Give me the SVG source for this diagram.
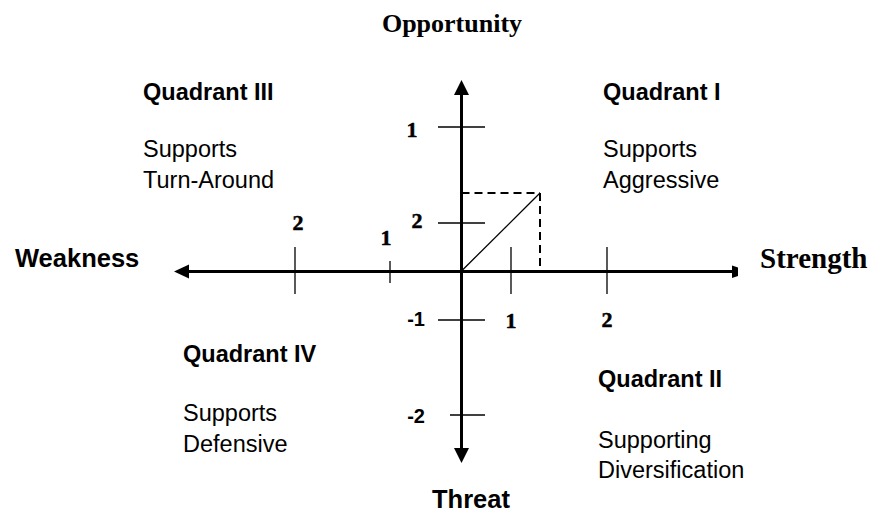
<svg xmlns="http://www.w3.org/2000/svg" width="869" height="513" viewBox="0 0 869 513">
<style>
.ax{stroke:#000;stroke-width:3;fill:none}
.tk{stroke:#000;stroke-width:1.3;fill:none}
.ds{stroke:#000;stroke-width:2;fill:none;stroke-dasharray:8 5}
.hd{fill:#000}
.tb{font-family:"Liberation Serif","Times New Roman",serif;font-weight:bold;fill:#000}
.sb{font-family:"Liberation Sans",Arial,sans-serif;font-weight:bold;fill:#000}
.sr{font-family:"Liberation Sans",Arial,sans-serif;fill:#000}
.q{font-size:23.5px}
.num{font-size:22px;stroke:#000;stroke-width:0.5}
</style>
<g id="connectors">
<line class="ax" x1="185" y1="271.5" x2="734" y2="271.5"/>
<polygon class="hd" points="174,271.5 189,264.5 189,278.5"/>
<polygon class="hd" points="732,265.5 738,267.5 738,276 732,278"/>
<line class="ax" x1="461.5" y1="92" x2="461.5" y2="451"/>
<polygon class="hd" points="461.5,80 454,95 469,95"/>
<polygon class="hd" points="461.5,463 454,448 469,448"/>
<line class="tk" x1="438" y1="127" x2="485" y2="127"/>
<line class="tk" x1="438" y1="223" x2="485" y2="223"/>
<line class="tk" x1="438" y1="320" x2="485" y2="320"/>
<line class="tk" x1="450" y1="415" x2="485" y2="415"/>
<line class="tk" x1="295" y1="247" x2="295" y2="294"/>
<line class="tk" x1="390" y1="261" x2="390" y2="283"/>
<line class="tk" x1="511" y1="247" x2="511" y2="294"/>
<line class="tk" x1="607" y1="247" x2="607" y2="294"/>
<line class="ds" x1="461.5" y1="193" x2="540" y2="193"/>
<line class="ds" x1="540" y1="193" x2="540" y2="271"/>
<line class="tk" x1="461.5" y1="271" x2="540" y2="193"/>
</g>
<g id="axis-labels">
<text class="tb" x="452" y="32" font-size="26" text-anchor="middle">Opportunity</text>
<text class="tb" x="760" y="268" font-size="29">Strength</text>
<text class="sb" x="15" y="267" font-size="25.5">Weakness</text>
<text class="sb" x="471" y="508" font-size="25.5" text-anchor="middle">Threat</text>
</g>
<g id="numbers">
<text class="tb num" x="412" y="137" text-anchor="middle">1</text>
<text class="tb num" x="417" y="228" text-anchor="middle">2</text>
<text class="tb num" x="298" y="230" text-anchor="middle">2</text>
<text class="tb num" x="386" y="245" text-anchor="middle">1</text>
<text class="sb" x="425" y="326" font-size="20" text-anchor="end">-1</text>
<text class="sb" x="425" y="423" font-size="20" text-anchor="end">-2</text>
<text class="tb num" x="511" y="328" text-anchor="middle">1</text>
<text class="tb num" x="607" y="327" text-anchor="middle">2</text>
</g>
<g id="quadrant-III">
<text class="sb q" x="143" y="100">Quadrant III</text>
<text class="sr q" x="143" y="157">Supports</text>
<text class="sr q" x="143" y="188">Turn-Around</text>
</g>
<g id="quadrant-I">
<text class="sb q" x="603" y="100">Quadrant I</text>
<text class="sr q" x="603" y="157">Supports</text>
<text class="sr q" x="603" y="188">Aggressive</text>
</g>
<g id="quadrant-IV">
<text class="sb q" x="183" y="362">Quadrant IV</text>
<text class="sr q" x="183" y="421">Supports</text>
<text class="sr q" x="183" y="452">Defensive</text>
</g>
<g id="quadrant-II">
<text class="sb q" x="598" y="387">Quadrant II</text>
<text class="sr q" x="598" y="448">Supporting</text>
<text class="sr q" x="598" y="478">Diversification</text>
</g>
</svg>
